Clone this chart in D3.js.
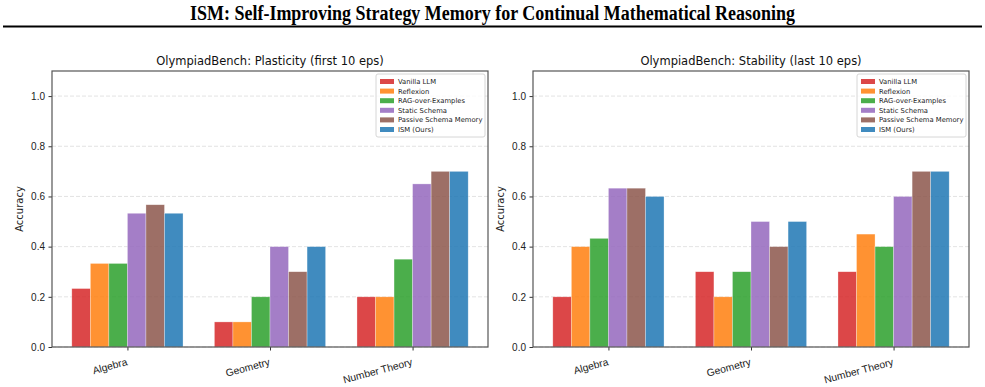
<!DOCTYPE html>
<html>
<head>
<meta charset="utf-8">
<script src="https://cdn.jsdelivr.net/npm/d3@7"></script>
<style>
  body { margin: 0; background: #fff; }
  svg { display: block; }
</style>
</head>
<body>
<div id="main"></div>
<script>
var categories = ["Algebra", "Geometry", "Number Theory"];
var methods = ["Vanilla LLM", "Reflexion", "RAG-over-Examples", "Static Schema", "Passive Schema Memory", "ISM (Ours)"];
var methodColors = ["#d62728", "#ff7f0e", "#2ca02c", "#9467bd", "#8c564b", "#1f77b4"];
var yTicks = [0.0, 0.2, 0.4, 0.6, 0.8, 1.0];

// values per method, in category order
var plasticity = [
    [0.233, 0.1, 0.2],
    [0.333, 0.1, 0.2],
    [0.333, 0.2, 0.35],
    [0.533, 0.4, 0.65],
    [0.567, 0.3, 0.7],
    [0.533, 0.4, 0.7]
];
var stability = [
    [0.2, 0.3, 0.3],
    [0.4, 0.2, 0.45],
    [0.433, 0.3, 0.4],
    [0.633, 0.5, 0.6],
    [0.633, 0.4, 0.7],
    [0.6, 0.5, 0.7]
];

var panels = [
    { title: "OlympiadBench: Plasticity (first 10 eps)", data: plasticity, left: 52 },
    { title: "OlympiadBench: Stability (last 10 eps)", data: stability, left: 533 }
];

var W = 985, H = 387;
var svg = d3.select("#main").append("svg").attr("width", W).attr("height", H);

// main title + rule
svg.append("text")
    .attr("x", W / 2).attr("y", 20)
    .attr("text-anchor", "middle")
    .attr("font-family", "Liberation Serif, serif")
    .attr("font-weight", "bold")
    .attr("font-size", 20)
    .attr("textLength", 605)
    .attr("lengthAdjust", "spacingAndGlyphs")
    .text("ISM: Self-Improving Strategy Memory for Continual Mathematical Reasoning");
svg.append("line")
    .attr("x1", 3).attr("x2", 982).attr("y1", 26.5).attr("y2", 26.5)
    .attr("stroke", "#000").attr("stroke-width", 2);

var barW = 0.13;
var axTop = 71, axBottom = 347, axW = 436;

panels.forEach(function (p) {
    var g = svg.append("g").attr("font-family", "DejaVu Sans, sans-serif");

    var x = d3.scaleLinear().domain([-0.529, 2.529]).range([p.left, p.left + axW]);
    var y = d3.scaleLinear().domain([0, 1.1]).range([axBottom, axTop]);

    // grid
    g.selectAll(".grid").data(yTicks).enter().append("line")
        .attr("x1", p.left).attr("x2", p.left + axW)
        .attr("y1", function (d) { return y(d); })
        .attr("y2", function (d) { return y(d); })
        .attr("stroke", "#b0b0b0").attr("stroke-opacity", 0.45)
        .attr("stroke-dasharray", "4,2").attr("stroke-width", 0.8);

    // bars
    methods.forEach(function (m, i) {
        var off = (i - 2.5) * barW;
        g.selectAll(".bar" + i).data(p.data[i]).enter().append("rect")
            .attr("x", function (d, j) { return x(j + off - barW / 2); })
            .attr("width", x(barW) - x(0))
            .attr("y", function (d) { return y(d); })
            .attr("height", function (d) { return y(0) - y(d); })
            .attr("fill", methodColors[i]).attr("fill-opacity", 0.85)
            .attr("stroke", "#fff").attr("stroke-opacity", 0.5).attr("stroke-width", 0.6);
    });

    // axes
    var yAxis = d3.axisLeft(y).tickValues(yTicks).tickFormat(d3.format(".1f")).tickSize(3.5).tickPadding(3.5);
    var ya = g.append("g").attr("transform", "translate(" + p.left + ",0)").call(yAxis);
    ya.select(".domain").remove();
    ya.selectAll("text").attr("font-size", 10).attr("fill", "#222");
    ya.selectAll("line").attr("stroke", "#333");

    var xAxis = d3.axisBottom(x).tickValues([0, 1, 2]).tickFormat(function (d) { return categories[d]; }).tickSize(3.5);
    var xa = g.append("g").attr("transform", "translate(0," + axBottom + ")").call(xAxis);
    xa.select(".domain").remove();
    xa.selectAll("line").attr("stroke", "#333");
    xa.selectAll("text")
        .attr("font-size", 10.3).attr("fill", "#222")
        .attr("text-anchor", "end")
        .attr("dy", 0)
        .attr("transform", "translate(0,18) rotate(-15)")
        .attr("y", 0).attr("x", 0);

    // frame
    g.append("rect")
        .attr("x", p.left).attr("y", axTop)
        .attr("width", axW).attr("height", axBottom - axTop)
        .attr("fill", "none").attr("stroke", "#555").attr("stroke-width", 1.2);

    // titles
    g.append("text")
        .attr("x", p.left + axW / 2).attr("y", axTop - 6)
        .attr("text-anchor", "middle").attr("font-size", 11.5).attr("fill", "#111")
        .text(p.title);
    g.append("text")
        .attr("transform", "translate(" + (p.left - 29) + "," + ((axTop + axBottom) / 2) + ") rotate(-90)")
        .attr("text-anchor", "middle").attr("font-size", 10).attr("fill", "#222")
        .text("Accuracy");

    // legend
    var lx = p.left + axW - 112, ly = 74;
    var leg = g.append("g").attr("transform", "translate(" + lx + "," + ly + ")");
    leg.append("rect")
        .attr("width", 109).attr("height", 63).attr("rx", 2)
        .attr("fill", "#fff").attr("fill-opacity", 0.8)
        .attr("stroke", "#ccc").attr("stroke-width", 0.8);
    methods.forEach(function (m, i) {
        var row = leg.append("g").attr("transform", "translate(4," + (5 + i * 9.6) + ")");
        row.append("rect").attr("width", 14).attr("height", 5)
            .attr("fill", methodColors[i]).attr("fill-opacity", 0.85);
        row.append("text").attr("x", 18).attr("y", 5).attr("font-size", 6.8).attr("fill", "#222").text(m);
    });
});
</script>
</body>
</html>
